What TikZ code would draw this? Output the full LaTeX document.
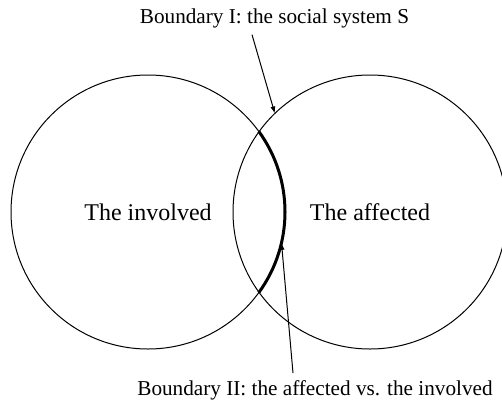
\documentclass[tikz,border=0pt]{standalone}
\usepackage{fontspec}
\setmainfont{Liberation Serif}
\usetikzlibrary{arrows.meta}

\begin{document}
\begin{tikzpicture}[x=0.5pt, y=0.5pt,
        group/.style={circle, draw, line width=0.5pt, minimum size=137pt, inner sep=0pt, outer sep=0pt, font=\fontsize{12}{14}\selectfont},
        caption/.style={font=\fontsize{10.6}{12.7}\selectfont, anchor=base},
        pointer/.style={-{Latex[length=3.5pt,width=2.5pt]}, line width=0.5pt}]
        \useasboundingbox (0, 0) rectangle (502, 403);

        \node[group] (involved) at (148, 191) {The involved};
        \node[group] (affected) at (370, 191) {The affected};
        \draw[line width=1.5pt] (involved.36) arc[start angle=36, end angle=-36, radius=68.5pt];

        \node[caption] (systemS) at (274.5, 380) {Boundary I: the social system S};
        \node[caption] (between) at (315, 8) {Boundary II: the affected vs. the involved};

        \draw[pointer] ([xshift=-11.25pt]systemS.south) -- (affected.134);
        \draw[pointer] ([xshift=-11pt]between.north) -- (involved.-13);
    \end{tikzpicture}
\end{document}
